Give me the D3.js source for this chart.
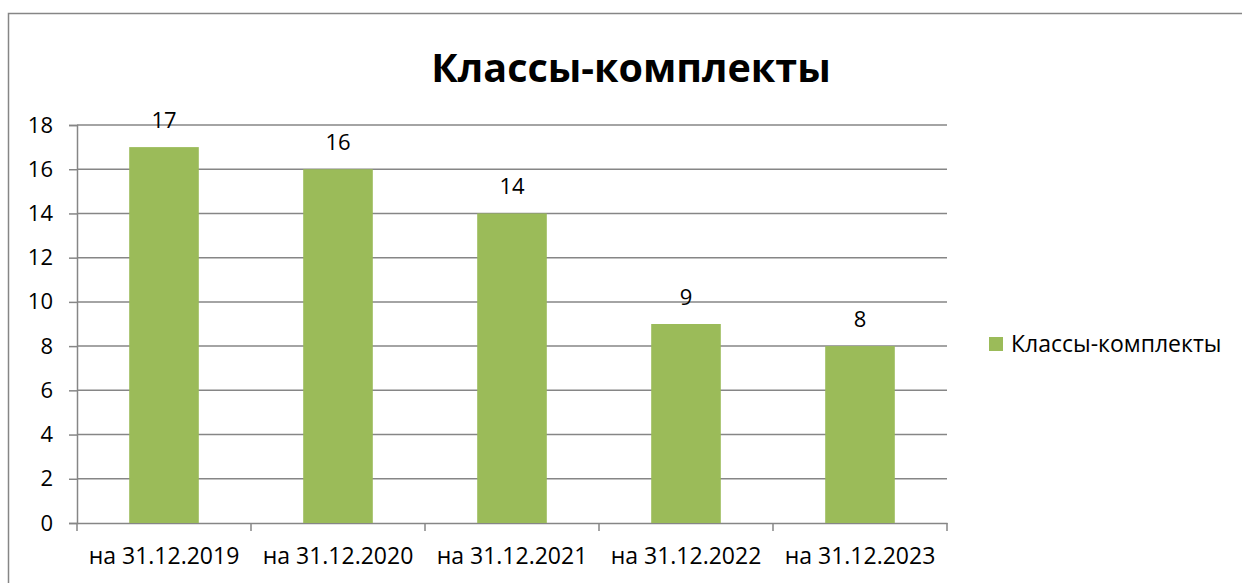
<!doctype HTML>
<html>
<head>
    <script src="https://d3js.org/d3.v7.min.js"></script>
    <style>
        body { margin: 0; background: #fff; }
        text { font-family: "Open Sans", "Noto Sans", sans-serif; fill: #000; }
    </style>
</head>
<body>
<script>

    // chart data
    var categories = ["на 31.12.2019", "на 31.12.2020", "на 31.12.2021", "на 31.12.2022", "на 31.12.2023"];
    var values = [17, 16, 14, 9, 8];
    var yTicks = [0, 2, 4, 6, 8, 10, 12, 14, 16, 18];
    var seriesName = "Классы-комплекты";
    var chartTitle = "Классы-комплекты";

    var W = 1242, H = 583;
    var margin = {top: 125, left: 77, right: 295, bottom: 60};
    var width = W - margin.left - margin.right,   // 870
        height = H - margin.top - margin.bottom;  // 398

    var svg = d3.select("body")
        .append("svg")
        .attr("width", W)
        .attr("height", H);

    // outer frame
    svg.append("rect")
        .attr("x", 8.5).attr("y", 13.5)
        .attr("width", W + 10).attr("height", H + 10)
        .attr("fill", "none")
        .attr("stroke", "#868686")
        .attr("stroke-width", 1.5);

    // title
    svg.append("text")
        .attr("x", 631)
        .attr("y", 82)
        .attr("text-anchor", "middle")
        .attr("font-size", "39.5px")
        .attr("font-weight", "bold")
        .text(chartTitle);

    var g = svg.append("g")
        .attr("transform", "translate(" + margin.left + "," + margin.top + ")");

    var x = d3.scaleBand().domain(categories).range([0, width]).paddingInner(0.6).paddingOuter(0.3);
    var xTicks = d3.scaleBand().domain(categories).range([0, width]);
    var y = d3.scaleLinear().domain([0, 18]).range([height, 0]);

    // gridlines
    g.selectAll(".grid")
        .data(yTicks.filter(function(d) { return d > 0; }))
        .enter().append("line")
        .attr("x1", 0).attr("x2", width)
        .attr("y1", function(d) { return y(d); })
        .attr("y2", function(d) { return y(d); })
        .attr("stroke", "#868686")
        .attr("stroke-width", 1.5);

    // y axis
    var yAxis = g.append("g")
        .call(d3.axisLeft(y).tickValues(yTicks).tickSize(8).tickPadding(16));
    yAxis.select(".domain").attr("stroke", "#868686").attr("stroke-width", 1.5);
    yAxis.selectAll(".tick line").attr("stroke", "#868686").attr("stroke-width", 1.5);
    yAxis.selectAll(".tick text").attr("font-size", "22px").attr("font-family", "Open Sans, sans-serif").attr("fill", "#000");

    // x axis line and category ticks
    var xAxis = g.append("g")
        .attr("transform", "translate(0," + height + ")")
        .call(d3.axisBottom(xTicks).tickSize(0).tickPadding(25));
    xAxis.select(".domain").attr("stroke", "#868686").attr("stroke-width", 1.5);
    xAxis.selectAll(".tick text").attr("font-size", "23px").attr("font-family", "Open Sans, sans-serif").attr("fill", "#000");

    var tickEdges = [0].concat(categories.map(function(c) { return xTicks(c) + xTicks.bandwidth(); }));
    g.selectAll(".xtick")
        .data(tickEdges)
        .enter().append("line")
        .attr("x1", function(d) { return d; }).attr("x2", function(d) { return d; })
        .attr("y1", height).attr("y2", height + 8)
        .attr("stroke", "#868686")
        .attr("stroke-width", 1.5);

    // bars
    g.selectAll(".bar")
        .data(values)
        .enter().append("rect")
        .attr("x", function(d, i) { return x(categories[i]); })
        .attr("y", function(d) { return y(d); })
        .attr("width", x.bandwidth())
        .attr("height", function(d) { return height - y(d); })
        .attr("fill", "#9BBB59");

    // data labels
    g.selectAll(".lbl")
        .data(values)
        .enter().append("text")
        .attr("x", function(d, i) { return x(categories[i]) + x.bandwidth() / 2; })
        .attr("y", function(d) { return y(d) - 19; })
        .attr("text-anchor", "middle")
        .attr("font-size", "22px")
        .text(function(d) { return d; });

    // legend
    var legend = svg.append("g").attr("transform", "translate(989,337)");
    legend.append("rect")
        .attr("width", 14).attr("height", 14)
        .attr("fill", "#9BBB59");
    legend.append("text")
        .attr("x", 22).attr("y", 15)
        .attr("font-size", "23px")
        .text(seriesName);

</script>
</body>
</html>
